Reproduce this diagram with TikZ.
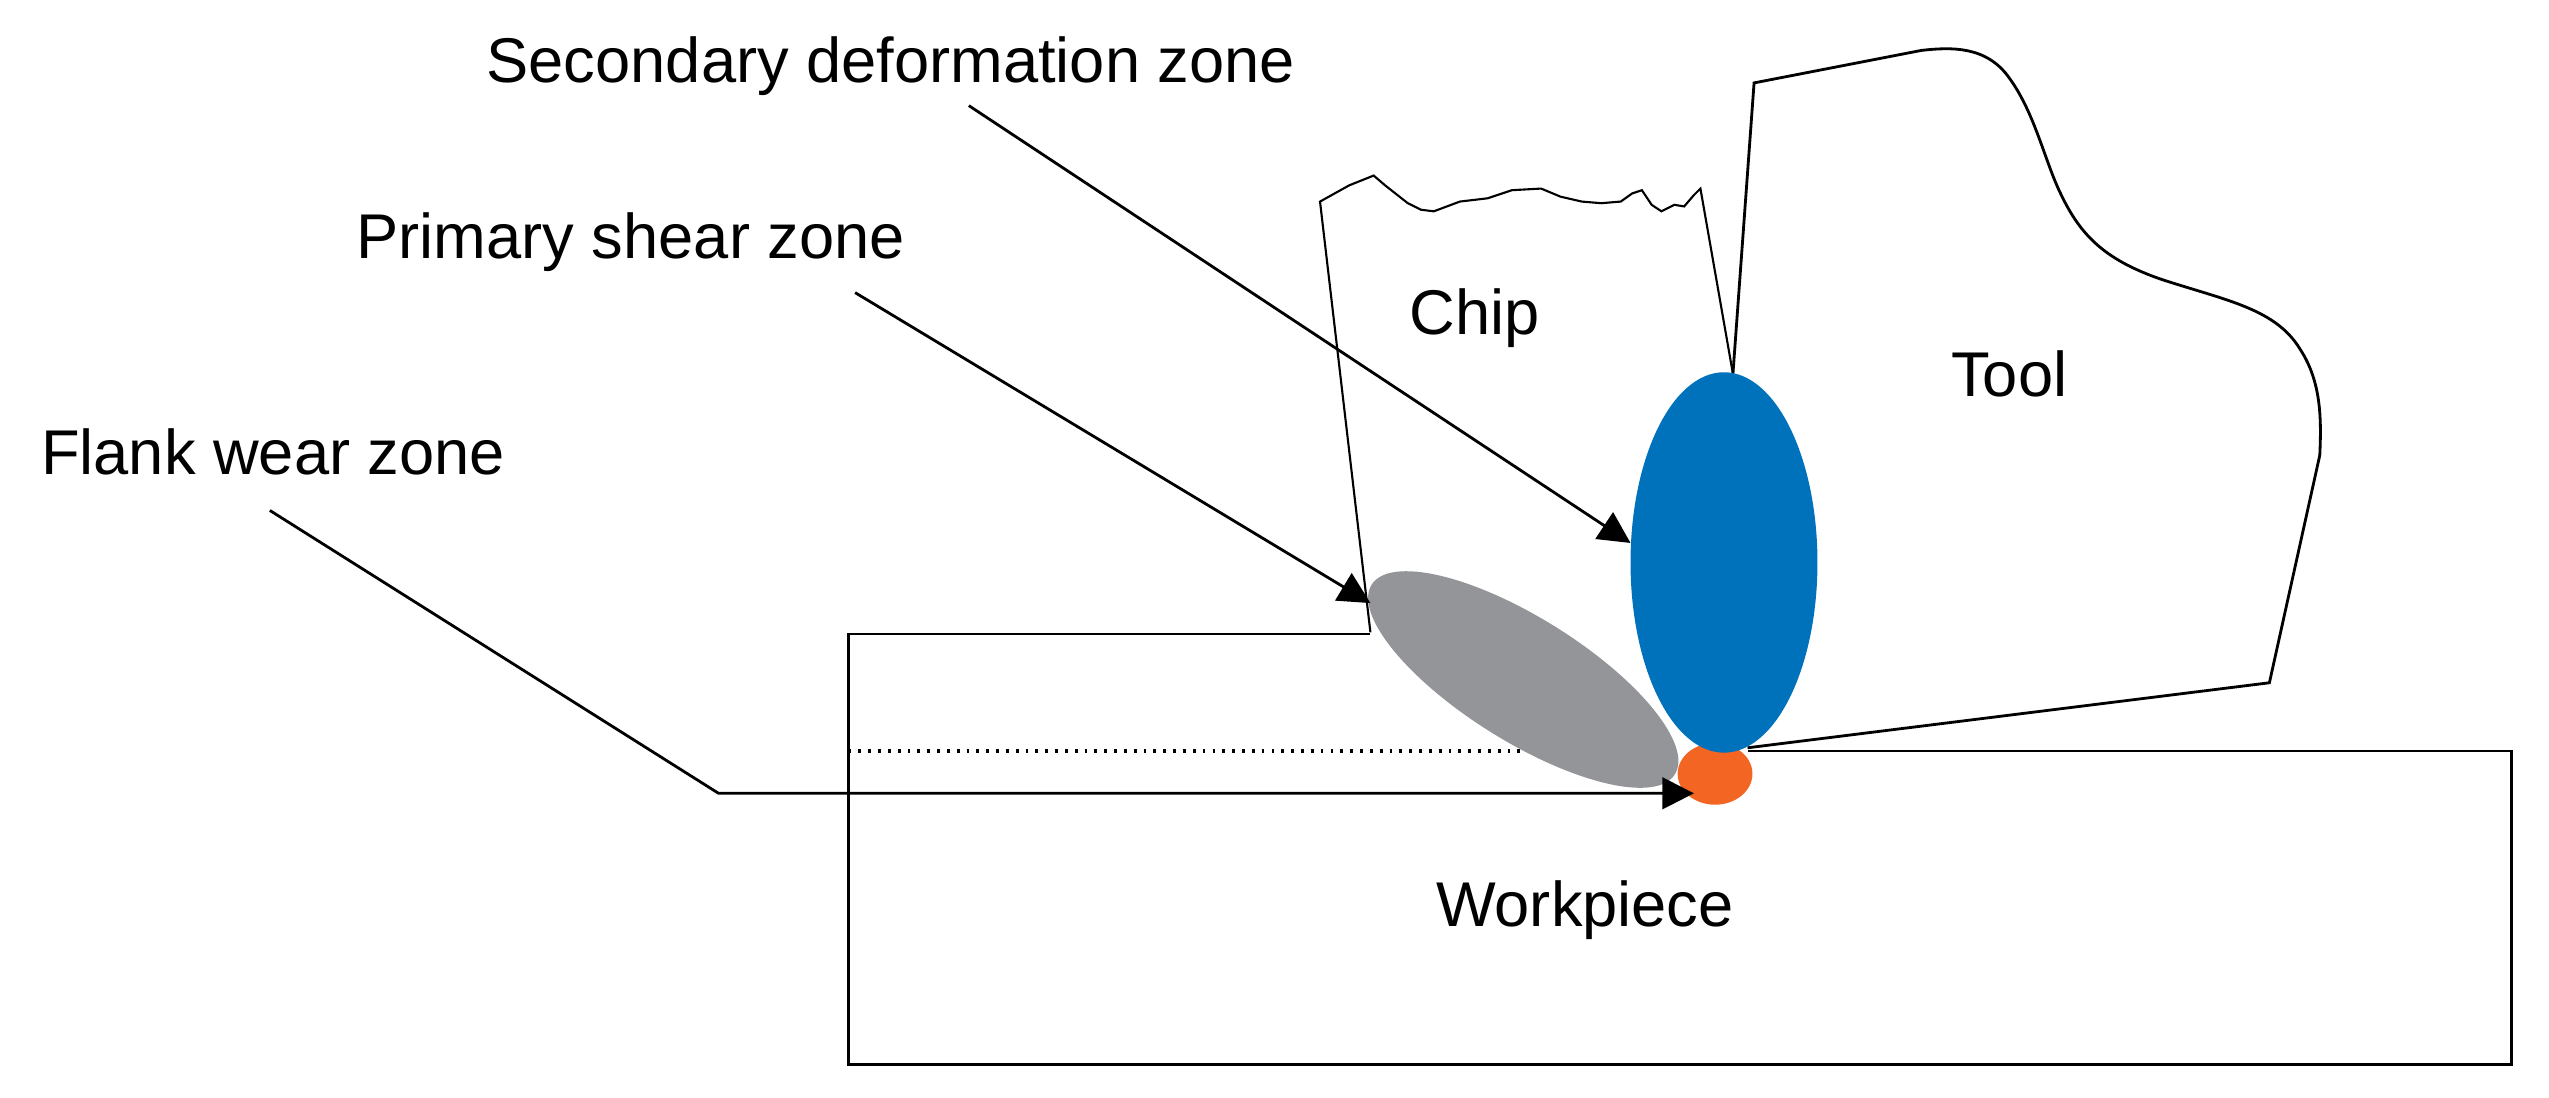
\documentclass[tikz,border=0pt]{standalone}
\usepackage{fontspec}
\setmainfont{Liberation Sans}
\usetikzlibrary{arrows.meta}
\definecolor{zblue}{HTML}{0072BC}
\definecolor{zgray}{HTML}{939598}
\definecolor{zorange}{HTML}{F26522}
\begin{document}
\begin{tikzpicture}[x=0.01626cm,y=-0.01626cm,
  line/.style={line width=0.8pt,black},
  lbl/.style={font=\fontsize{18pt}{20pt}\selectfont,inner sep=0pt},
  lead/.style={line width=0.8pt,-{Triangle[length=9pt,width=9pt]}}]
\useasboundingbox (0,0) rectangle (1568,675);
% workpiece
\draw[line] (843,390) -- (522,390) -- (522,655) -- (1545,655) -- (1545,462) -- (1075,462);
\draw[line,dotted,line width=1.2pt] (522,462) -- (958,462);
% chip
\draw[line,line width=0.6pt] (843,389) -- (812,124) -- (830,114) -- (845,108) -- (852,114) -- (866,125) -- (874,129) -- (882,130) -- (898,124) -- (915,122) -- (930,117) -- (948,116) -- (960,121) -- (973,124) -- (985,125) -- (997,124) -- (1004,119) -- (1010,117) -- (1016,126) -- (1022,130) -- (1030,126) -- (1036,127) -- (1042,120) -- (1046,116) -- (1066,230);
% tool
\draw[line] (1066,230) -- (1079,51) -- (1182,31)
  .. controls (1200,29) and (1222,28) .. (1236,48)
  .. controls (1252,70) and (1258,100) .. (1268,120)
  .. controls (1280,145) and (1295,160) .. (1330,172)
  .. controls (1370,185) and (1400,190) .. (1415,215)
  .. controls (1428,235) and (1428,258) .. (1427,280)
  -- (1396,420) -- (1075,460);
% zones
\fill[zgray] (937,418) ellipse[x radius=110,y radius=38,rotate=-32];
\fill[zorange] (1055,476) ellipse[x radius=23,y radius=19];
\fill[zblue] (1060.5,346) ellipse[x radius=57.5,y radius=117];
% labels
\node[lbl] (sec) at (548,41) {Secondary deformation zone};
\node[lbl] (pri) at (388,149) {Primary shear zone};
\node[lbl] (fla) at (168,278) {Flank wear zone};
\node[lbl] (chip) at (907,196) {Chip};
\node[lbl] (tool) at (1236,230) {Tool};
\node[lbl] (work) at (975,560) {Workpiece};
% leaders
\coordinate (s0) at (596,65); \coordinate (s1) at (1003,334);
\coordinate (p0) at (526,180); \coordinate (p1) at (843,371);
\coordinate (f0) at (166,314); \coordinate (fc) at (442,488); \coordinate (f1) at (1042,488);
\draw[lead] (s0) -- (s1);
\draw[lead] (p0) -- (p1);
\draw[lead] (f0) -- (fc) -- (f1);
\end{tikzpicture}
\end{document}
